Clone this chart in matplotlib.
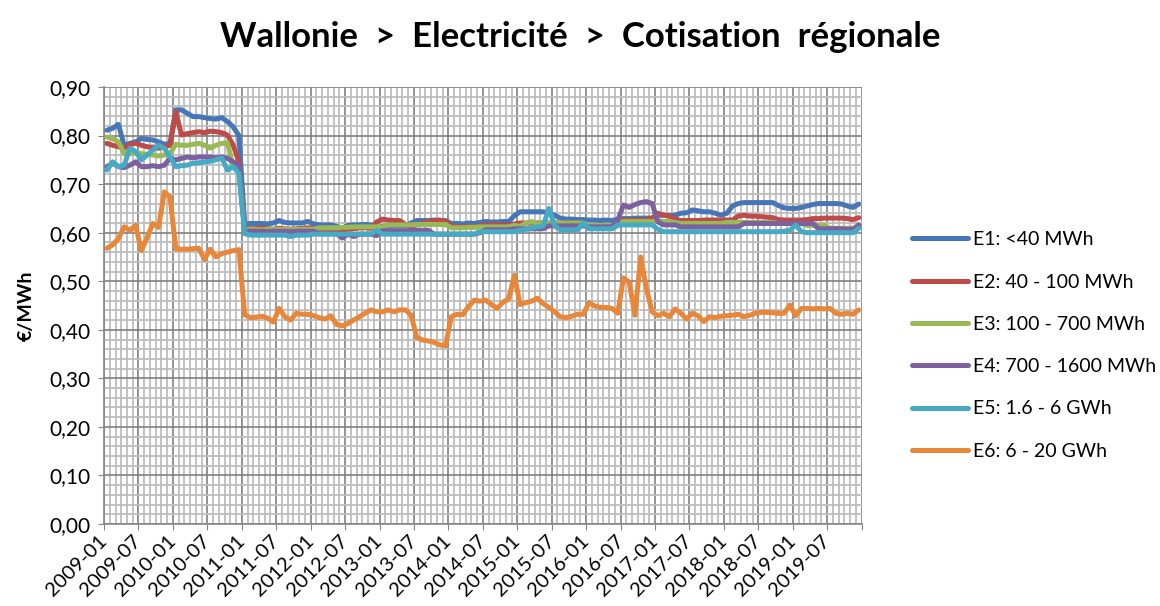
import pandas as pd
import matplotlib
matplotlib.use("Agg")
import matplotlib.pyplot as plt
from matplotlib.ticker import FixedLocator, MultipleLocator, FuncFormatter

plt.rcParams["font.family"] = ["Lato", "DejaVu Sans"]

months = list(pd.date_range("2009-01-01", periods=132, freq="MS").strftime("%Y-%m"))

series_names = ["E1: <40 MWh", "E2: 40 - 100 MWh", "E3: 100 - 700 MWh",
                "E4: 700 - 1600 MWh", "E5: 1.6 - 6 GWh", "E6: 6 - 20 GWh"]

e1 = [0.811, 0.815, 0.823, 0.780, 0.784, 0.787, 0.794, 0.792, 0.791, 0.787, 0.782, 0.784,
      0.853, 0.853, 0.846, 0.839, 0.839, 0.837, 0.835, 0.834, 0.837, 0.829, 0.818, 0.800,
      0.618, 0.619, 0.619, 0.619, 0.618, 0.620, 0.625, 0.621, 0.620, 0.620, 0.620, 0.623,
      0.618, 0.616, 0.616, 0.616, 0.613, 0.609, 0.615, 0.616, 0.616, 0.617, 0.616, 0.610,
      0.613, 0.614, 0.614, 0.614, 0.614, 0.620, 0.625, 0.625, 0.625, 0.626, 0.625, 0.625,
      0.619, 0.619, 0.618, 0.620, 0.619, 0.621, 0.623, 0.622, 0.622, 0.623, 0.623, 0.635,
      0.643, 0.643, 0.643, 0.643, 0.643, 0.640, 0.636, 0.630, 0.628, 0.628, 0.627, 0.627,
      0.626, 0.626, 0.625, 0.626, 0.625, 0.628, 0.629, 0.629, 0.630, 0.630, 0.630, 0.630,
      0.636, 0.636, 0.635, 0.636, 0.640, 0.641, 0.647, 0.645, 0.643, 0.643, 0.640, 0.636,
      0.640, 0.655, 0.660, 0.662, 0.662, 0.662, 0.662, 0.662, 0.662, 0.656, 0.651, 0.650,
      0.650, 0.652, 0.655, 0.658, 0.660, 0.660, 0.660, 0.660, 0.659, 0.655, 0.652, 0.659]

e2 = [0.784, 0.780, 0.777, 0.774, 0.782, 0.784, 0.780, 0.777, 0.775, 0.774, 0.777, 0.780,
      0.849, 0.801, 0.804, 0.806, 0.808, 0.806, 0.809, 0.808, 0.806, 0.801, 0.780, 0.746,
      0.610, 0.608, 0.609, 0.610, 0.608, 0.607, 0.609, 0.608, 0.607, 0.608, 0.609, 0.610,
      0.609, 0.608, 0.607, 0.606, 0.605, 0.605, 0.607, 0.608, 0.610, 0.610, 0.609, 0.622,
      0.628, 0.626, 0.625, 0.625, 0.617, 0.614, 0.616, 0.620, 0.623, 0.625, 0.626, 0.623,
      0.614, 0.612, 0.612, 0.613, 0.612, 0.614, 0.616, 0.616, 0.616, 0.616, 0.616, 0.618,
      0.620, 0.620, 0.620, 0.620, 0.620, 0.620, 0.620, 0.620, 0.620, 0.620, 0.620, 0.620,
      0.612, 0.609, 0.609, 0.609, 0.609, 0.615, 0.626, 0.626, 0.626, 0.626, 0.626, 0.630,
      0.640, 0.636, 0.634, 0.628, 0.625, 0.625, 0.625, 0.625, 0.626, 0.626, 0.626, 0.626,
      0.626, 0.626, 0.634, 0.636, 0.634, 0.634, 0.633, 0.632, 0.631, 0.627, 0.626, 0.626,
      0.626, 0.626, 0.627, 0.629, 0.629, 0.630, 0.630, 0.630, 0.630, 0.629, 0.627, 0.631]

e3 = [0.797, 0.794, 0.787, 0.763, 0.763, 0.765, 0.763, 0.761, 0.760, 0.758, 0.760, 0.763,
      0.782, 0.780, 0.780, 0.782, 0.784, 0.780, 0.774, 0.780, 0.784, 0.785, 0.735, 0.728,
      0.607, 0.607, 0.607, 0.606, 0.607, 0.607, 0.607, 0.607, 0.606, 0.607, 0.607, 0.607,
      0.607, 0.610, 0.610, 0.610, 0.610, 0.611, 0.611, 0.612, 0.612, 0.612, 0.612, 0.612,
      0.612, 0.616, 0.616, 0.616, 0.616, 0.616, 0.617, 0.617, 0.617, 0.617, 0.617, 0.617,
      0.610, 0.610, 0.610, 0.611, 0.611, 0.612, 0.612, 0.612, 0.612, 0.612, 0.612, 0.615,
      0.613, 0.620, 0.623, 0.618, 0.620, 0.620, 0.620, 0.620, 0.620, 0.620, 0.620, 0.620,
      0.615, 0.615, 0.615, 0.615, 0.615, 0.620, 0.623, 0.623, 0.623, 0.623, 0.623, 0.623,
      0.623, 0.623, 0.623, 0.621, 0.619, 0.619, 0.619, 0.619, 0.619, 0.619, 0.619, 0.619,
      0.621, 0.621, 0.621, 0.621, 0.621, 0.621, 0.621, 0.621, 0.621, 0.619, 0.619, 0.619,
      0.619, 0.619, 0.615, 0.615, 0.615, 0.615, 0.609, 0.609, 0.609, 0.609, 0.609, 0.612]

e4 = [0.736, 0.743, 0.736, 0.734, 0.739, 0.746, 0.736, 0.736, 0.738, 0.736, 0.739, 0.753,
      0.750, 0.753, 0.756, 0.754, 0.756, 0.756, 0.756, 0.754, 0.756, 0.753, 0.746, 0.739,
      0.603, 0.603, 0.603, 0.603, 0.602, 0.603, 0.603, 0.603, 0.602, 0.603, 0.603, 0.603,
      0.603, 0.598, 0.598, 0.598, 0.598, 0.589, 0.597, 0.592, 0.597, 0.597, 0.597, 0.594,
      0.604, 0.604, 0.604, 0.604, 0.604, 0.605, 0.605, 0.605, 0.605, 0.597, 0.597, 0.597,
      0.597, 0.597, 0.597, 0.597, 0.597, 0.600, 0.606, 0.606, 0.606, 0.606, 0.606, 0.608,
      0.608, 0.608, 0.608, 0.608, 0.608, 0.614, 0.614, 0.614, 0.614, 0.614, 0.614, 0.614,
      0.612, 0.612, 0.612, 0.612, 0.612, 0.625, 0.657, 0.652, 0.658, 0.662, 0.664, 0.660,
      0.622, 0.616, 0.616, 0.616, 0.612, 0.612, 0.612, 0.612, 0.612, 0.612, 0.612, 0.612,
      0.612, 0.612, 0.612, 0.619, 0.619, 0.619, 0.619, 0.619, 0.619, 0.619, 0.619, 0.619,
      0.619, 0.619, 0.619, 0.619, 0.608, 0.608, 0.608, 0.608, 0.608, 0.607, 0.607, 0.616]

e5 = [0.729, 0.746, 0.736, 0.739, 0.774, 0.767, 0.750, 0.760, 0.770, 0.780, 0.774, 0.756,
      0.736, 0.738, 0.739, 0.743, 0.744, 0.746, 0.747, 0.750, 0.754, 0.729, 0.736, 0.722,
      0.598, 0.595, 0.595, 0.595, 0.595, 0.595, 0.595, 0.595, 0.592, 0.595, 0.595, 0.595,
      0.597, 0.597, 0.597, 0.597, 0.597, 0.597, 0.597, 0.597, 0.597, 0.597, 0.597, 0.605,
      0.597, 0.597, 0.597, 0.597, 0.597, 0.597, 0.597, 0.597, 0.597, 0.597, 0.597, 0.597,
      0.597, 0.597, 0.597, 0.597, 0.597, 0.602, 0.602, 0.602, 0.602, 0.602, 0.602, 0.602,
      0.605, 0.607, 0.610, 0.612, 0.614, 0.650, 0.614, 0.606, 0.606, 0.606, 0.606, 0.620,
      0.608, 0.608, 0.608, 0.608, 0.608, 0.616, 0.616, 0.616, 0.616, 0.616, 0.616, 0.616,
      0.607, 0.602, 0.602, 0.602, 0.602, 0.602, 0.602, 0.602, 0.602, 0.602, 0.602, 0.602,
      0.602, 0.602, 0.602, 0.602, 0.602, 0.602, 0.602, 0.602, 0.602, 0.602, 0.603, 0.605,
      0.616, 0.602, 0.600, 0.600, 0.600, 0.600, 0.600, 0.600, 0.600, 0.600, 0.600, 0.609]

e6 = [0.568, 0.575, 0.588, 0.612, 0.605, 0.615, 0.563, 0.590, 0.619, 0.611, 0.684, 0.673,
      0.567, 0.566, 0.566, 0.567, 0.568, 0.545, 0.566, 0.550, 0.557, 0.560, 0.563, 0.565,
      0.431, 0.425, 0.426, 0.428, 0.424, 0.416, 0.444, 0.427, 0.420, 0.434, 0.432, 0.432,
      0.429, 0.425, 0.422, 0.429, 0.411, 0.408, 0.413, 0.420, 0.427, 0.434, 0.441, 0.437,
      0.437, 0.441, 0.437, 0.441, 0.441, 0.430, 0.384, 0.379, 0.377, 0.374, 0.369, 0.367,
      0.427, 0.432, 0.431, 0.448, 0.461, 0.459, 0.461, 0.452, 0.444, 0.457, 0.463, 0.512,
      0.452, 0.456, 0.459, 0.465, 0.454, 0.446, 0.437, 0.427, 0.425, 0.428, 0.432, 0.432,
      0.456, 0.449, 0.446, 0.446, 0.444, 0.434, 0.507, 0.498, 0.430, 0.550, 0.485, 0.437,
      0.429, 0.434, 0.427, 0.443, 0.434, 0.422, 0.434, 0.429, 0.417, 0.427, 0.425, 0.428,
      0.429, 0.430, 0.432, 0.427, 0.430, 0.434, 0.436, 0.436, 0.435, 0.434, 0.434, 0.451,
      0.429, 0.444, 0.444, 0.443, 0.444, 0.443, 0.444, 0.434, 0.432, 0.434, 0.432, 0.441]

colors = ["#4676B8", "#BE4B48", "#98B954", "#7D60A0", "#46AAC5", "#E8873A"]


def main():
    fig = plt.figure(figsize=(11.6, 6.06), dpi=100)
    ax = fig.add_axes([0.0897, 0.1353, 0.6531, 0.7211])

    x = list(range(len(months)))
    for vals, name, col in zip([e1, e2, e3, e4, e5, e6], series_names, colors):
        ax.plot(x, vals, color=col, lw=3.6, label=name, solid_capstyle="round",
                solid_joinstyle="round", zorder=3)

    ax.set_xlim(-0.5, len(months) - 0.5)
    ax.set_ylim(0, 0.9)

    # ticks sit on the month boundaries, labels every 6 months
    major_pos = [-0.5 + k for k in range(0, len(months) + 1, 6)]
    major_lab = [months[int(p + 0.5)] if p + 0.5 < len(months) else "" for p in major_pos]
    ax.xaxis.set_major_locator(FixedLocator(major_pos))
    ax.xaxis.set_minor_locator(FixedLocator([-0.5 + k for k in range(len(months) + 1)]))
    ax.set_xticklabels(major_lab, rotation=45, ha="right", va="center",
                       rotation_mode="anchor", fontsize=14.5)

    ax.yaxis.set_major_locator(MultipleLocator(0.1))
    ax.yaxis.set_minor_locator(MultipleLocator(0.02))
    ax.yaxis.set_major_formatter(FuncFormatter(lambda v, p: f"{v:.2f}".replace(".", ",")))

    ax.set_axisbelow(True)
    ax.grid(which="minor", color="#BDBDBD", lw=1.3)
    ax.grid(which="major", color="#808080", lw=1.2)

    for s in ["top", "right"]:
        ax.spines[s].set_visible(False)
    for s in ["left", "bottom"]:
        ax.spines[s].set_color("#868686")
        ax.spines[s].set_linewidth(1.2)

    ax.tick_params(which="major", direction="out", length=4, color="#868686",
                   labelsize=15, pad=6)
    ax.tick_params(axis="x", which="major", labelsize=14.5)
    ax.tick_params(which="minor", length=0)

    ax.set_ylabel("€/MWh", fontsize=14, fontweight="bold", labelpad=10)

    fig.suptitle("Wallonie  >  Electricité  >  Cotisation  régionale",
                 fontsize=25, fontweight="bold", x=0.5, y=0.965)

    fig.legend(loc="center left", bbox_to_anchor=(0.786, 0.43), frameon=False,
               fontsize=14, handlelength=2.9, handletextpad=0.25,
               labelspacing=1.3, borderpad=0, borderaxespad=0)

    fig.savefig("out.png", dpi=100)


if __name__ == "__main__":
    main()
